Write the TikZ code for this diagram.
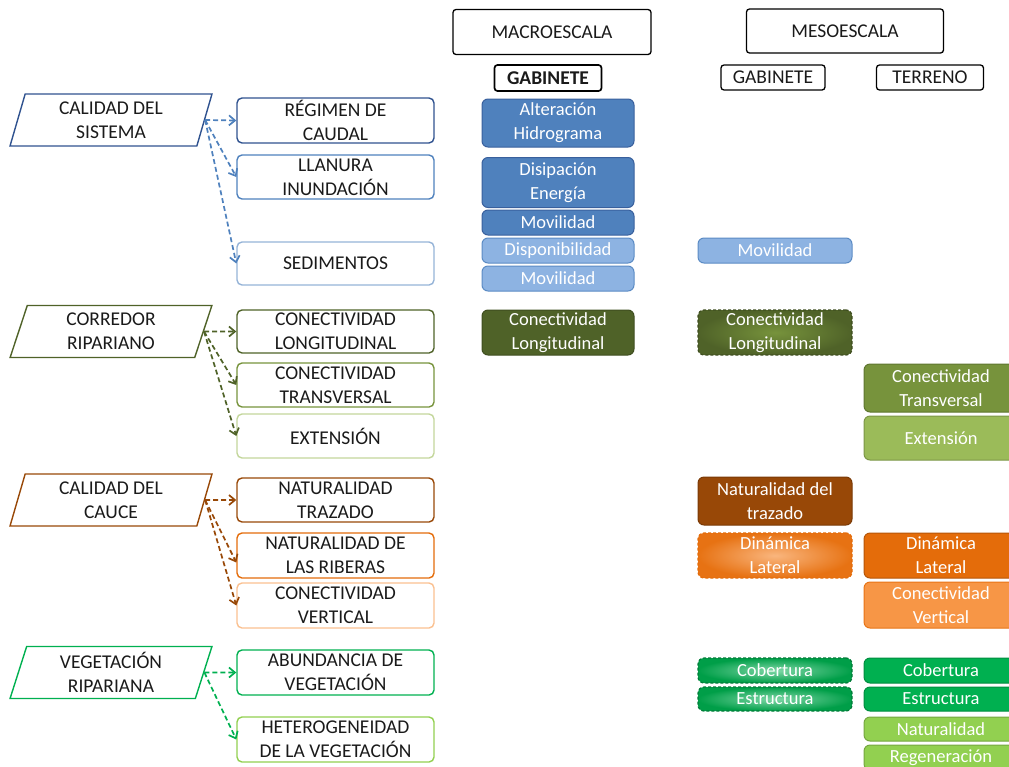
\documentclass[tikz,border=0pt]{standalone}
\usepackage{fontspec}
\setmainfont{Carlito}
\usetikzlibrary{shapes.geometric,arrows.meta}

\definecolor{texto}{HTML}{1A1A1A}
\definecolor{azulO}{HTML}{2F528F}
\definecolor{azul}{HTML}{4F81BD}
\definecolor{azulC}{HTML}{8DB3E2}
\definecolor{azulL}{HTML}{95B3D7}
\definecolor{olivaO}{HTML}{4F6228}
\definecolor{oliva}{HTML}{77933C}
\definecolor{olivaC}{HTML}{9BBB59}
\definecolor{olivaL}{HTML}{C3D69B}
\definecolor{marron}{HTML}{984807}
\definecolor{naranja}{HTML}{E46C0A}
\definecolor{naranjaC}{HTML}{F79646}
\definecolor{naranjaL}{HTML}{FAC090}
\definecolor{verde}{HTML}{00B050}
\definecolor{verdeC}{HTML}{92D050}

\newcommand\lfont{\fontsize{19.5}{24}\selectfont}
\newcommand\rfont{\fontsize{18.5}{24}\selectfont}

\tikzset{
  tema/.style={trapezium, trapezium left angle=76, trapezium right angle=104,
    trapezium stretches=true, draw, line width=1.4pt, minimum width=202pt,
    minimum height=52pt, align=center, font=\lfont, text=texto, inner sep=0pt},
  sub/.style={draw, rounded corners=5pt, line width=1.4pt, minimum width=197pt,
    align=center, font=\lfont, text=texto, inner sep=0pt},
  cab/.style={draw, rounded corners=3pt, line width=1.3pt, font=\lfont,
    text=texto, inner sep=0pt},
  caja/.style={rounded corners=6pt, minimum width=152pt, align=center,
    font=\rfont, text=white, inner sep=0pt, line width=1pt},
  punt/.style={densely dashed, line width=1.2pt},
  flecha/.style={dash pattern=on 5pt off 3pt, line width=1.7pt,
    -{Straight Barb[length=6pt,width=10pt]}}
}

\begin{document}
\begin{tikzpicture}[x=1pt,y=-1pt]
  \useasboundingbox (0,0) rectangle (1009,766);
  \clip (0,0) rectangle (1009,766);

  % cabeceras
  \node[cab, minimum width=198pt, minimum height=45pt] (macro) at (552,32) {MACROESCALA};
  \node[cab, minimum width=197pt, minimum height=44pt] (meso) at (845,31) {MESOESCALA};
  \node[cab, line width=1.7pt, minimum width=107pt, minimum height=26pt, font=\lfont\bfseries] (gabM) at (548,78) {GABINETE};
  \node[cab, minimum width=104pt, minimum height=25pt] (gabm) at (773,77.5) {GABINETE};
  \node[cab, minimum width=107pt, minimum height=25pt] (terr) at (930,77.5) {TERRENO};

  % temas y subtemas
  \node[tema, draw=azulO] (cal) at (111,120) {CALIDAD DEL\\SISTEMA};
  \node[sub, draw=azulO, minimum height=45pt] (reg) at (335.5,120.5) {RÉGIMEN DE\\CAUDAL};
  \node[sub, draw=azul, minimum height=44pt] (lla) at (335.5,177) {LLANURA\\INUNDACIÓN};
  \node[sub, draw=azulL, minimum height=43pt] (sed) at (335.5,263.5) {SEDIMENTOS};

  \node[tema, draw=olivaO] (cor) at (111,331.5) {CORREDOR\\RIPARIANO};
  \node[sub, draw=olivaO, minimum height=43pt] (clo) at (335.5,331.5) {CONECTIVIDAD\\LONGITUDINAL};
  \node[sub, draw=oliva, minimum height=44pt] (ctr) at (335.5,385) {CONECTIVIDAD\\TRANSVERSAL};
  \node[sub, draw=olivaL, minimum height=44pt] (ext) at (335.5,436) {EXTENSIÓN};

  \node[tema, draw=marron] (cau) at (111,500) {CALIDAD DEL\\CAUCE};
  \node[sub, draw=marron, minimum height=44pt] (ntr) at (335.5,500) {NATURALIDAD\\TRAZADO};
  \node[sub, draw=naranja, minimum height=45pt] (nri) at (335.5,555.5) {NATURALIDAD DE\\LAS RIBERAS};
  \node[sub, draw=naranjaL, minimum height=45pt] (cve) at (335.5,605.5) {CONECTIVIDAD\\VERTICAL};

  \node[tema, draw=verde] (veg) at (111,672.5) {VEGETACIÓN\\RIPARIANA};
  \node[sub, draw=verde, minimum height=45pt] (abu) at (335.5,672.5) {ABUNDANCIA DE\\VEGETACIÓN};
  \node[sub, draw=verdeC, minimum height=45pt] (het) at (335.5,739.5) {HETEROGENEIDAD\\DE LA VEGETACIÓN};

  % macroescala - gabinete
  \node[caja, fill=azul, draw=azulO!70!azul, minimum height=48pt] (alt) at (558,123) {Alteración\\Hidrograma};
  \node[caja, fill=azul, draw=azulO!70!azul, minimum height=50pt] (dis) at (558,182.5) {Disipación\\Energía};
  \node[caja, fill=azul, draw=azulO!70!azul, minimum height=25pt] (movA) at (558,222.5) {Movilidad};
  \node[caja, fill=azulC, draw=azul!80!azulC, minimum height=25pt] (disp) at (558,250.5) {Disponibilidad};
  \node[caja, fill=azulC, draw=azul!80!azulC, minimum height=25pt] (movB) at (558,278.5) {Movilidad};
  \node[caja, fill=olivaO, draw=olivaO!80!black, minimum height=45pt] (conA) at (558,332.5) {Conectividad\\Longitudinal};

  % mesoescala - gabinete
  \node[caja, minimum width=154pt, fill=azulC, draw=azul!80!azulC, minimum height=25pt] (movC) at (775,250.5) {Movilidad};
  \node[caja, punt, minimum width=154pt, shade, outer color=olivaO, inner color=oliva, draw=olivaO!80!black, minimum height=45pt] (conB) at (775,332.5) {Conectividad\\Longitudinal};
  \node[caja, minimum width=154pt, fill=marron, draw=marron!80!black, minimum height=48pt] (natB) at (775,501) {Naturalidad del\\trazado};
  \node[caja, punt, minimum width=154pt, shade, outer color=naranja!85!naranjaC, inner color=naranjaC!70!white, draw=naranja, minimum height=45pt] (dinB) at (775,555.5) {Dinámica\\Lateral};
  \node[caja, punt, minimum width=154pt, shade, outer color=verde!90!black, inner color=verde!50!white, draw=verde!70!black, minimum height=25pt] (cobB) at (775,670.5) {Cobertura};
  \node[caja, punt, minimum width=154pt, shade, outer color=verde!90!black, inner color=verde!50!white, draw=verde!70!black, minimum height=24pt] (estB) at (775,699) {Estructura};

  % mesoescala - terreno
  \node[caja, minimum width=154pt, fill=oliva, draw=oliva!80!black, minimum height=48pt] (trC) at (941,388) {Conectividad\\Transversal};
  \node[caja, minimum width=154pt, fill=olivaC, draw=olivaC!80!black, minimum height=44pt] (extC) at (941,438) {Extensión};
  \node[caja, minimum width=154pt, fill=naranja, draw=naranja!80!black, minimum height=45pt] (dinC) at (941,555.5) {Dinámica\\Lateral};
  \node[caja, minimum width=154pt, fill=naranjaC, draw=naranja!80!naranjaC, minimum height=46pt] (cvC) at (941,605) {Conectividad\\Vertical};
  \node[caja, minimum width=154pt, fill=verde, draw=verde!80!black, minimum height=25pt] (cobC) at (941,670.5) {Cobertura};
  \node[caja, minimum width=154pt, fill=verde, draw=verde!80!black, minimum height=24pt] (estC) at (941,699) {Estructura};
  \node[caja, minimum width=154pt, fill=verdeC, draw=verdeC!80!black, minimum height=24pt] (natC) at (941,729) {Naturalidad};
  \node[caja, minimum width=154pt, fill=verdeC, draw=verdeC!80!black, minimum height=25pt] (regC) at (941,757.5) {Regeneración};

  \begin{scope}[flecha]
    \draw[azul] (cal.east) to (reg.west);
    \draw[azul] (cal.east) to (lla.west);
    \draw[azul] (cal.east) to (sed.west);
    \draw[olivaO] (cor.east) to (clo.west);
    \draw[olivaO] (cor.east) to (ctr.west);
    \draw[olivaO] (cor.east) to (ext.west);
    \draw[marron] (cau.east) to (ntr.west);
    \draw[marron] (cau.east) to ([yshift=-7pt]nri.west);
    \draw[marron] (cau.east) to (cve.west);
    \draw[verde] (veg.east) to (abu.west);
    \draw[verde] (veg.east) to (het.west);
  \end{scope}
\end{tikzpicture}
\end{document}
